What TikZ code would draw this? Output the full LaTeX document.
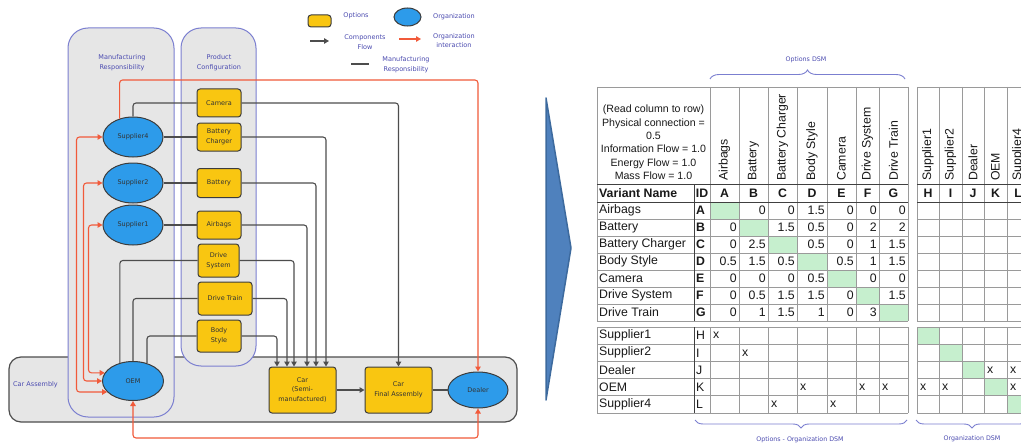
\documentclass[tikz,border=0pt]{standalone}
\usepackage{fontspec}
\newfontfamily\diafont{DejaVu Sans}
\newfontfamily\tabfont{Liberation Sans}
\usetikzlibrary{arrows.meta,shapes.geometric,decorations.pathreplacing,calc}

\definecolor{lanefill}{HTML}{E6E6E6}
\definecolor{laneborder}{HTML}{7B7FD0}
\definecolor{lanetext}{HTML}{4B4BB0}
\definecolor{optyellow}{HTML}{F9C611}
\definecolor{orgblue}{HTML}{2D9BEA}
\definecolor{edgedark}{HTML}{3C3C3C}
\definecolor{conn}{HTML}{4D4D4D}
\definecolor{interred}{HTML}{F15A3A}
\definecolor{gridgray}{HTML}{9A9A9A}
\definecolor{diaggreen}{HTML}{C6EFCE}
\definecolor{chevron}{HTML}{4F81BD}
\definecolor{chevronedge}{HTML}{3D6A9E}

\begin{document}
\begin{tikzpicture}[x=1pt,y=-1pt,
  >={Triangle[length=5pt,width=5.5pt]},
  lane/.style={draw=laneborder,fill=lanefill,line width=1pt,rounded corners=20pt,inner sep=0pt},
  asm/.style={draw=conn,fill=lanefill,line width=1.2pt,rounded corners=12pt,inner sep=0pt},
  dtext/.style={font=\diafont\fontsize{6.5}{9.8}\selectfont,align=center,inner sep=0pt},
  lanelab/.style={dtext,text=lanetext},
  opt/.style={dtext,draw=edgedark,fill=optyellow,rounded corners=3pt,line width=1pt,text=black!80},
  org/.style={dtext,ellipse,draw=edgedark,fill=orgblue,line width=1pt,text=black!80},
  flow/.style={draw=conn,line width=1.1pt,rounded corners=3pt,->},
  resp/.style={draw=conn,line width=1.1pt,rounded corners=3pt},
  inter/.style={draw=interred,line width=1.1pt,rounded corners=3pt},
  ttext/.style={font=\tabfont\fontsize{12.3}{14}\selectfont,inner sep=0pt,text=black!90},
  tbold/.style={ttext,font=\tabfont\bfseries\fontsize{12.3}{14}\selectfont},
  rot/.style={ttext,rotate=90,anchor=west},
  grid/.style={draw=gridgray,line width=0.8pt},
  brace/.style={draw=laneborder,line width=0.9pt,decorate},
  bracelab/.style={font=\diafont\fontsize{6.3}{8}\selectfont,text=lanetext,inner sep=0pt}
]
\useasboundingbox (0,0) rectangle (1021,444);
\fill[white] (0,0) rectangle (1021,444);

% ---------- swim lanes ----------
\node[asm,minimum width=508,minimum height=65] (carasm) at (263,389.5) {};
\node[lane,minimum width=106,minimum height=389] (mfg) at (121,222.5) {};
\node[lane,minimum width=75,minimum height=338] (prod) at (218.5,197) {};
\node[lanelab] (mfglab) at (122,63) {Manufacturing\\Responsibility};
\node[lanelab] (prodlab) at (219,63) {Product\\Configuration};
\node[lanelab,anchor=west] (asmlab) at (13,385) {Car Assembly};

% ---------- legend ----------
\node[opt,minimum width=23,minimum height=12] (legopt) at (319.5,21) {};
\node[lanelab] (legoptlab) at (356,16) {Options};
\node[org,minimum width=27,minimum height=18] (legorg) at (407.5,17) {};
\node[lanelab] (legorglab) at (454,17) {Organization};
\coordinate (lfa) at (310,41);
\coordinate (lfb) at (329,41);
\draw[flow] (lfa) -- (lfb);
\node[lanelab] (legflow) at (365,42) {Components\\Flow};
\coordinate (lia) at (399,39);
\coordinate (lib) at (421,39);
\draw[inter,->] (lia) -- (lib);
\node[lanelab] (leginter) at (454,40.5) {Organization\\interaction};
\coordinate (lra) at (351,64);
\coordinate (lrb) at (369,64);
\draw[resp] (lra) -- (lrb);
\node[lanelab] (legresp) at (406,65) {Manufacturing\\Responsibility};

% ---------- options ----------
\node[opt,minimum width=44,minimum height=28] (cam) at (219,103) {Camera};
\node[opt,minimum width=44,minimum height=28] (bc) at (219,137) {Battery\\Charger};
\node[opt,minimum width=44,minimum height=29] (bat) at (219,183) {Battery};
\node[opt,minimum width=44,minimum height=28] (air) at (219,225) {Airbags};
\node[opt,minimum width=41,minimum height=33] (ds) at (218.5,260.5) {Drive\\System};
\node[opt,minimum width=54,minimum height=33] (dt) at (225,298.5) {Drive Train};
\node[opt,minimum width=44,minimum height=32] (bs) at (219,336) {Body\\Style};
\node[opt,minimum width=67,minimum height=46] (semi) at (302.5,390) {Car\\(Semi-\\manufactured)};
\node[opt,minimum width=67,minimum height=46] (fa) at (398.5,390) {Car\\Final Assembly};

% ---------- organizations ----------
\node[org,minimum width=60,minimum height=40] (s4) at (133,137) {Supplier4};
\node[org,minimum width=60,minimum height=40] (s2) at (133,183) {Supplier2};
\node[org,minimum width=60,minimum height=40] (s1) at (133,225) {Supplier1};
\node[org,minimum width=61,minimum height=39] (oem) at (133,381) {OEM};
\node[org,minimum width=60,minimum height=36] (dealer) at (478,390) {Dealer};

% ---------- manufacturing responsibility ----------
\draw[resp] (s4.north) |- (cam.west);
\draw[resp] (s4.east) -- (bc.west);
\draw[resp] (s2.east) -- (bat.west);
\draw[resp] (s1.east) -- (air.west);
\draw[resp] (ds.west) -| (oem.126);
\draw[resp] (dt.west) -| (oem.north);
\draw[resp] (bs.west) -| (oem.52);
\draw[resp] (fa.east) -- (dealer.west);

% ---------- components flow ----------
\draw[flow] (cam.east) -| (fa.north);
\draw[flow] (bc.east) -| ([xshift=23.5]semi.north);
\draw[flow] (bat.east) -| ([xshift=13.5]semi.north);
\draw[flow] (air.east) -| ([xshift=4.5]semi.north);
\draw[flow] (ds.east) -| ([xshift=-8.5]semi.north);
\draw[flow] (dt.east) -| ([xshift=-15.5]semi.north);
\draw[flow] (bs.east) -| ([xshift=-25.5]semi.north);
\draw[flow] (semi.east) -- (fa.west);

% ---------- organization interaction ----------
\coordinate (rtop) at (0,80);
\coordinate (rbot) at (0,438);
\draw[inter,->] (s4.126) -- (s4.126 |- rtop) -| (dealer.north);
\draw[inter,<->] (oem.south) -- (oem.south |- rbot) -| (dealer.south);
\draw[inter,<->] (s4.west) -- ++(-26,0) |- (oem.203);
\draw[inter,<->] (s2.west) -- ++(-19,0) |- (oem.west);
\draw[inter,<->] (s1.west) -- ++(-14,0) |- (oem.164);

% ---------- transition chevron ----------
\coordinate (chA) at (546,98);
\coordinate (chB) at (571,248);
\coordinate (chC) at (546,400);
\filldraw[fill=chevron,draw=chevronedge,line width=1.5pt,line join=round] (chA) -- (chB) -- (chC) -- cycle;

% ---------- DSM table ----------
\begin{scope}
\clip (0,0) rectangle (1021,444);

% diagonal cells
\foreach \xa/\xb/\r in {710/739/1,739/768/2,768/797/3,797/827/4,827/856/5,856/879/6,879/908/7}
  \fill[diaggreen] (\xa,{202+17*(\r-1)}) rectangle (\xb,{202+17*\r});
\foreach \xa/\xb/\r in {917/939/1,939/962/2,962/984/3,984/1007/4,1007/1029/5}
  \fill[diaggreen] (\xa,{327+17.2*(\r-1)}) rectangle (\xb,{327+17.2*\r});

% grid lines
\foreach \x in {710,739,768,797,827,856,879,908,917,939,962,984,1007}
  \draw[grid] (\x,87) -- (\x,321) (\x,327) -- (\x,413);
\draw[grid] (597,87) -- (597,321) (597,327) -- (597,413);
\draw[grid] (694,184) -- (694,321) (694,327) -- (694,413);
\foreach \y in {87,184,202,219,236,253,270,287,304,321}
  \draw[grid] (597,\y) -- (908,\y) (917,\y) -- (1029,\y);
\foreach \r in {0,...,5}
  \draw[grid] (597,{327+17.2*\r}) -- (908,{327+17.2*\r}) (917,{327+17.2*\r}) -- (1029,{327+17.2*\r});
\draw[draw=black!75,line width=1pt] (597,184) -- (908,184) (917,184) -- (1029,184)
  (597,202) -- (908,202) (917,202) -- (1029,202)
  (694,184) -- (694,321) (694,327) -- (694,413);

% legend of the matrix
\node[ttext,align=center,font=\tabfont\fontsize{10.6}{13.4}\selectfont] (key) at (653.5,142.5)
  {(Read column to row)\\Physical connection =\\0.5\\Information Flow = 1.0\\Energy Flow = 1.0\\Mass Flow = 1.0};

% column headings
\foreach \x/\t [count=\c] in {724.5/Airbags,753.5/Battery,782.5/Battery Charger,812/Body Style,841.5/Camera,867.5/Drive System,893.5/Drive Train,928/Supplier1,950.5/Supplier2,973/Dealer,995.5/OEM,1018/Supplier4}
  \node[rot] (colhead\c) at (\x,181) {\t};
\node[tbold,anchor=west] (vnhead) at (599,193) {Variant Name};
\node[tbold] (idhead) at (702,193) {ID};
\foreach \x/\t [count=\c] in {724.5/A,753.5/B,782.5/C,812/D,841.5/E,867.5/F,893.5/G,928/H,950.5/I,973/J,995.5/K,1018/L}
  \node[tbold] (letter\c) at (\x,193) {\t};

% option rows
\foreach \nm/\id/\vals [count=\r] in {Airbags/A/{~,0,0,1.5,0,0,0},Battery/B/{0,~,1.5,0.5,0,2,2},Battery Charger/C/{0,2.5,~,0.5,0,1,1.5},Body Style/D/{0.5,1.5,0.5,~,0.5,1,1.5},Camera/E/{0,0,0,0.5,~,0,0},Drive System/F/{0,0.5,1.5,1.5,0,~,1.5},Drive Train/G/{0,1,1.5,1,0,3,~}}{
  \pgfmathsetmacro\yc{202+17*(\r-0.5)}
  \node[ttext,anchor=west] (optname\r) at (599,\yc) {\nm};
  \node[tbold,anchor=west] (optid\r) at (696,\yc) {\id};
  \foreach \v [count=\c] in \vals {
    \pgfmathsetmacro\xr{{739,768,797,827,856,879,908}[\c-1]-2}
    \node[ttext,anchor=east] (val-\r-\c) at (\xr,\yc) {\v};
  }
}

% organization rows
\foreach \nm/\id [count=\r] in {Supplier1/H,Supplier2/I,Dealer/J,OEM/K,Supplier4/L}{
  \pgfmathsetmacro\yc{327+17.2*(\r-0.5)}
  \node[ttext,anchor=west] (orgname\r) at (599,\yc) {\nm};
  \node[ttext,anchor=west] (orgid\r) at (696,\yc) {\id};
}
\foreach \xl/\r [count=\k] in {710/1,739/2,797/4,856/4,879/4,917/4,939/4,1007/4,984/3,1007/3,768/5,827/5}
  \node[ttext,anchor=west] (mark\k) at (\xl+3,{327+17.2*(\r-0.5)}) {x};

% braces
\draw[brace,decoration={brace,amplitude=9pt}] (710,79) -- (905,79);
\node[bracelab] (optdsm) at (806,60) {Options DSM};
\draw[brace,decoration={brace,amplitude=8pt}] (907,420) -- (695,420);
\node[bracelab] (ooadsm) at (800,440) {Options - Organization DSM};
\draw[brace,decoration={brace,amplitude=8pt}] (1028,420) -- (916,420);
\node[bracelab] (orgdsm) at (972,439) {Organization DSM};
\end{scope}
\end{tikzpicture}
\end{document}
